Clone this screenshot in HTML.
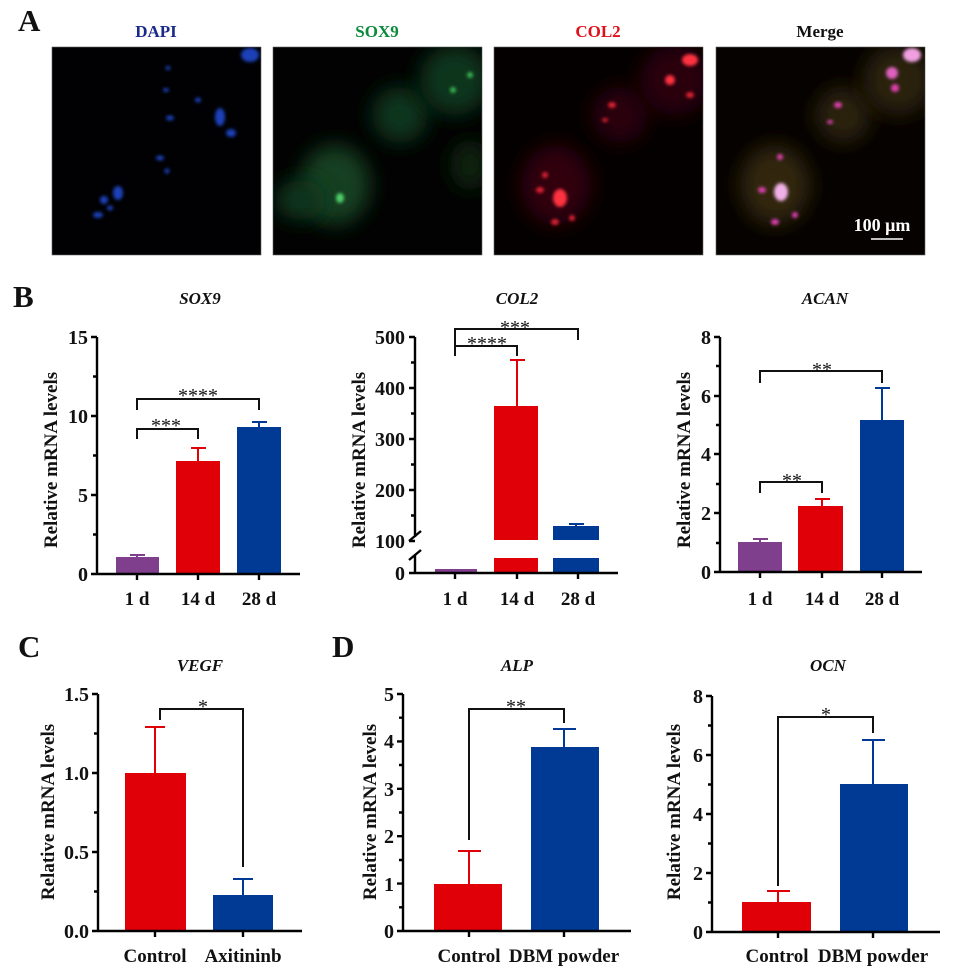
<!DOCTYPE html>
<html><head><meta charset="utf-8"><style>
html,body{margin:0;padding:0;background:#fff}
svg{display:block}
text{font-family:"Liberation Serif",serif;font-weight:bold;fill:#111}
.ax{stroke:#000;stroke-width:2.4;fill:none}
.br{stroke:#111;stroke-width:2;fill:none}
.tl{font-size:20px;text-anchor:end}
.xl{font-size:19px;text-anchor:middle}
.yl{font-size:19px;text-anchor:middle}
.ti{font-size:17px;font-style:italic;text-anchor:middle}
.st{font-size:20px;text-anchor:middle;font-weight:normal}
.big{font-size:31px}
</style></head><body>
<svg width="955" height="971" viewBox="0 0 955 971" xmlns="http://www.w3.org/2000/svg">
<defs>
<filter id="b10" x="-50%" y="-50%" width="200%" height="200%"><feGaussianBlur stdDeviation="10"/></filter>
<filter id="b2" x="-50%" y="-50%" width="200%" height="200%"><feGaussianBlur stdDeviation="1.5"/></filter>
<clipPath id="c1"><rect x="52" y="47" width="209" height="208"/></clipPath>
<clipPath id="c2"><rect x="273" y="47" width="209" height="208"/></clipPath>
<clipPath id="c3"><rect x="494" y="47" width="209" height="208"/></clipPath>
<clipPath id="c4"><rect x="716" y="47" width="209" height="208"/></clipPath>
</defs>

<!-- Panel A -->
<text x="18" y="31" class="big">A</text>
<text x="156" y="37" style="font-size:17px;fill:#1a2a8a" text-anchor="middle">DAPI</text>
<text x="377" y="37" style="font-size:17px;fill:#0a8a3a" text-anchor="middle">SOX9</text>
<text x="598" y="37" style="font-size:17px;fill:#e0101a" text-anchor="middle">COL2</text>
<text x="820" y="37" style="font-size:17px" text-anchor="middle">Merge</text>

<rect x="52" y="47" width="209" height="208" fill="#010104" stroke="#666" stroke-width="0.6"/>
<g clip-path="url(#c1)" fill="#1a3fb8">
<ellipse cx="170" cy="118" rx="4" ry="2.5" filter="url(#b2)"/>
<ellipse cx="220" cy="117" rx="5" ry="9" filter="url(#b2)"/>
<ellipse cx="231" cy="133" rx="5" ry="4" filter="url(#b2)"/>
<ellipse cx="250" cy="55" rx="9" ry="7" filter="url(#b2)"/>
<ellipse cx="198" cy="100" rx="3" ry="2.5" filter="url(#b2)"/>
<ellipse cx="160" cy="158" rx="4" ry="2.5" filter="url(#b2)"/>
<ellipse cx="167" cy="171" rx="2.5" ry="2.5" filter="url(#b2)"/>
<ellipse cx="118" cy="193" rx="5" ry="7" filter="url(#b2)"/>
<ellipse cx="104" cy="200" rx="4" ry="4" filter="url(#b2)"/>
<ellipse cx="98" cy="215" rx="5" ry="3" filter="url(#b2)"/>
<ellipse cx="110" cy="208" rx="3" ry="2.5" filter="url(#b2)"/>
<ellipse cx="166" cy="90" rx="3" ry="2" filter="url(#b2)"/>
<ellipse cx="168" cy="68" rx="2.5" ry="2" filter="url(#b2)"/>
</g>

<rect x="273" y="47" width="209" height="208" fill="#010201" stroke="#666" stroke-width="0.6"/>
<g clip-path="url(#c2)">
<ellipse cx="335" cy="185" rx="35" ry="40" fill="#124020" filter="url(#b10)"/>
<ellipse cx="300" cy="200" rx="25" ry="20" fill="#10361b" filter="url(#b10)"/>
<ellipse cx="400" cy="115" rx="28" ry="28" fill="#10361b" filter="url(#b10)"/>
<ellipse cx="455" cy="80" rx="35" ry="35" fill="#10361b" filter="url(#b10)"/>
<ellipse cx="470" cy="165" rx="20" ry="25" fill="#0a2411" filter="url(#b10)"/>
<ellipse cx="340" cy="198" rx="4" ry="5" fill="#4ed068" filter="url(#b2)"/>
<ellipse cx="453" cy="90" rx="3" ry="3" fill="#3bb552" filter="url(#b2)"/>
<ellipse cx="470" cy="75" rx="3" ry="3" fill="#3bb552" filter="url(#b2)"/>
</g>

<rect x="494" y="47" width="209" height="208" fill="#040000" stroke="#666" stroke-width="0.6"/>
<g clip-path="url(#c3)">
<ellipse cx="556" cy="185" rx="35" ry="40" fill="#330508" filter="url(#b10)"/>
<ellipse cx="620" cy="115" rx="28" ry="28" fill="#2a0508" filter="url(#b10)"/>
<ellipse cx="675" cy="80" rx="35" ry="35" fill="#2a0508" filter="url(#b10)"/>
<ellipse cx="560" cy="198" rx="7" ry="9" fill="#ff3040" filter="url(#b2)"/>
<ellipse cx="540" cy="190" rx="4" ry="3" fill="#e02030" filter="url(#b2)"/>
<ellipse cx="555" cy="222" rx="4" ry="3" fill="#e02030" filter="url(#b2)"/>
<ellipse cx="572" cy="218" rx="3" ry="3" fill="#e02030" filter="url(#b2)"/>
<ellipse cx="545" cy="175" rx="3" ry="3" fill="#e02030" filter="url(#b2)"/>
<ellipse cx="612" cy="105" rx="4" ry="3" fill="#e02030" filter="url(#b2)"/>
<ellipse cx="605" cy="120" rx="3" ry="2" fill="#e02030" filter="url(#b2)"/>
<ellipse cx="690" cy="60" rx="8" ry="6" fill="#ff3040" filter="url(#b2)"/>
<ellipse cx="670" cy="80" rx="5" ry="5" fill="#ff3040" filter="url(#b2)"/>
<ellipse cx="690" cy="95" rx="4" ry="3" fill="#e02030" filter="url(#b2)"/>
</g>

<rect x="716" y="47" width="209" height="208" fill="#050200" stroke="#666" stroke-width="0.6"/>
<g clip-path="url(#c4)">
<ellipse cx="775" cy="185" rx="35" ry="40" fill="#33250e" filter="url(#b10)"/>
<ellipse cx="843" cy="115" rx="28" ry="28" fill="#2a200a" filter="url(#b10)"/>
<ellipse cx="898" cy="80" rx="35" ry="35" fill="#2a200a" filter="url(#b10)"/>
<ellipse cx="781" cy="192" rx="7" ry="9" fill="#f0b0e8" filter="url(#b2)"/>
<ellipse cx="762" cy="190" rx="4" ry="3" fill="#e040b0" filter="url(#b2)"/>
<ellipse cx="775" cy="222" rx="4" ry="3" fill="#e040b0" filter="url(#b2)"/>
<ellipse cx="795" cy="215" rx="3" ry="3" fill="#e040b0" filter="url(#b2)"/>
<ellipse cx="780" cy="157" rx="3" ry="3" fill="#e040b0" filter="url(#b2)"/>
<ellipse cx="838" cy="105" rx="4" ry="3" fill="#e040b0" filter="url(#b2)"/>
<ellipse cx="830" cy="122" rx="3" ry="2" fill="#e040b0" filter="url(#b2)"/>
<ellipse cx="912" cy="55" rx="9" ry="7" fill="#f0a0e0" filter="url(#b2)"/>
<ellipse cx="892" cy="73" rx="6" ry="6" fill="#e060c0" filter="url(#b2)"/>
<ellipse cx="895" cy="88" rx="4" ry="4" fill="#e040b0" filter="url(#b2)"/>
</g>
<text x="882" y="231" style="font-size:18px;fill:#fff" text-anchor="middle">100 μm</text>
<line x1="871" y1="239" x2="903" y2="239" stroke="#fff" stroke-width="1.5"/>

<!-- Panel B: SOX9 -->
<text x="13" y="307" class="big">B</text>
<text x="200" y="304" class="ti">SOX9</text>
<text class="yl" transform="translate(57,460) rotate(-90)">Relative mRNA levels</text>
<rect x="116" y="557" width="43" height="17" fill="#7f3f8c"/>
<rect x="176" y="461" width="44" height="113" fill="#e00008"/>
<rect x="237" y="427" width="44" height="147" fill="#003a94"/>
<path d="M137 557V555M130 555H145" stroke="#7f3f8c" stroke-width="2"/>
<path d="M198 461V448M191 448H206" stroke="#e00008" stroke-width="2"/>
<path d="M259 427V422M252 422H267" stroke="#003a94" stroke-width="2"/>
<path class="ax" d="M97 337V574H300M91 337H97M93 376.5H97M91 416H97M93 455.5H97M91 495H97M93 534.5H97M91 574H97M137 574V580M198 574V580M259 574V580"/>
<text x="88" y="344" class="tl">15</text><text x="88" y="423" class="tl">10</text><text x="88" y="502" class="tl">5</text><text x="88" y="581" class="tl">0</text>
<text x="137" y="605" class="xl">1 d</text><text x="198" y="605" class="xl">14 d</text><text x="259" y="605" class="xl">28 d</text>
<path class="br" d="M137 439V429H198V439M137 410V399H259V410"/>
<text x="166" y="432" class="st">***</text><text x="198" y="402" class="st">****</text>

<!-- COL2 -->
<text x="517" y="304" class="ti">COL2</text>
<text class="yl" transform="translate(365,460) rotate(-90)">Relative mRNA levels</text>
<rect x="435" y="569" width="42" height="4" fill="#7f3f8c"/>
<rect x="494" y="406" width="44" height="134" fill="#e00008"/>
<rect x="494" y="558" width="44" height="15" fill="#e00008"/>
<rect x="553" y="526" width="46" height="14" fill="#003a94"/>
<rect x="553" y="558" width="46" height="15" fill="#003a94"/>
<path d="M517 406V360M510 360H525" stroke="#e00008" stroke-width="2"/>
<path d="M576 526V524M569 524H584" stroke="#003a94" stroke-width="2"/>
<path class="ax" d="M415 337V537M415 555V573H618M409 337H415M411 362.5H415M409 388H415M411 413.5H415M409 439H415M411 464.5H415M409 490H415M411 515.5H415M409 541H415M409 573H415M455 573V579M517 573V579M578 573V579"/>
<path class="ax" d="M409 541L421 531M409 560L421 550" stroke-width="1.8"/>
<text x="405" y="344" class="tl">500</text><text x="405" y="395" class="tl">400</text><text x="405" y="446" class="tl">300</text><text x="405" y="497" class="tl">200</text><text x="405" y="548" class="tl">100</text><text x="405" y="580" class="tl">0</text>
<text x="455" y="605" class="xl">1 d</text><text x="517" y="605" class="xl">14 d</text><text x="578" y="605" class="xl">28 d</text>
<path class="br" d="M455 356V346H517V356M455 345V329H578V340"/>
<text x="487" y="350" class="st">****</text><text x="515" y="334" class="st">***</text>

<!-- ACAN -->
<text x="825" y="304" class="ti">ACAN</text>
<text class="yl" transform="translate(690,460) rotate(-90)">Relative mRNA levels</text>
<rect x="738" y="542" width="44" height="30" fill="#7f3f8c"/>
<rect x="798" y="506" width="45" height="66" fill="#e00008"/>
<rect x="860" y="420" width="44" height="152" fill="#003a94"/>
<path d="M760 542V539M753 539H768" stroke="#7f3f8c" stroke-width="2"/>
<path d="M822 506V499M815 499H830" stroke="#e00008" stroke-width="2"/>
<path d="M882 420V388M875 388H890" stroke="#003a94" stroke-width="2"/>
<path class="ax" d="M720 337V572H922M714 337H720M716 366H720M714 396H720M716 425H720M714 454H720M716 484H720M714 513H720M716 543H720M714 572H720M760 572V578M822 572V578M882 572V578"/>
<text x="711" y="344" class="tl">8</text><text x="711" y="403" class="tl">6</text><text x="711" y="461" class="tl">4</text><text x="711" y="520" class="tl">2</text><text x="711" y="579" class="tl">0</text>
<text x="760" y="605" class="xl">1 d</text><text x="822" y="605" class="xl">14 d</text><text x="882" y="605" class="xl">28 d</text>
<path class="br" d="M760 493V482H822V493M760 383V371H882V383"/>
<text x="792" y="487" class="st">**</text><text x="822" y="376" class="st">**</text>

<!-- Panel C: VEGF -->
<text x="18" y="657" class="big">C</text>
<text x="200" y="671" class="ti">VEGF</text>
<text class="yl" transform="translate(54,812) rotate(-90)">Relative mRNA levels</text>
<rect x="125" y="773" width="61" height="158" fill="#e00008"/>
<rect x="213" y="895" width="60" height="36" fill="#003a94"/>
<path d="M155 773V727M145 727H165" stroke="#e00008" stroke-width="2"/>
<path d="M243 895V879M233 879H253" stroke="#003a94" stroke-width="2"/>
<path class="ax" d="M98 694V931H302M92 694H98M94 733.5H98M92 773H98M94 812.5H98M92 852H98M94 891.5H98M92 931H98M155 931V937M243 931V937"/>
<text x="89" y="701" class="tl">1.5</text><text x="89" y="780" class="tl">1.0</text><text x="89" y="859" class="tl">0.5</text><text x="89" y="938" class="tl">0.0</text>
<text x="155" y="962" class="xl">Control</text><text x="243" y="962" class="xl">Axitininb</text>
<path class="br" d="M160 720V709H243V867"/>
<text x="203" y="713" class="st">*</text>

<!-- Panel D: ALP -->
<text x="332" y="657" class="big">D</text>
<text x="517" y="671" class="ti">ALP</text>
<text class="yl" transform="translate(376,812) rotate(-90)">Relative mRNA levels</text>
<rect x="434" y="884" width="68" height="47" fill="#e00008"/>
<rect x="531" y="747" width="68" height="184" fill="#003a94"/>
<path d="M469 884V851M458 851H481" stroke="#e00008" stroke-width="2"/>
<path d="M564 747V729M553 729H576" stroke="#003a94" stroke-width="2"/>
<path class="ax" d="M403 694V931H631M397 694H403M399 717.7H403M397 741.4H403M399 765H403M397 788.8H403M399 812.5H403M397 836.2H403M399 860H403M397 883.6H403M399 907.3H403M397 931H403M469 931V937M564 931V937"/>
<text x="394" y="701" class="tl">5</text><text x="394" y="748" class="tl">4</text><text x="394" y="796" class="tl">3</text><text x="394" y="843" class="tl">2</text><text x="394" y="891" class="tl">1</text><text x="394" y="938" class="tl">0</text>
<text x="469" y="962" class="xl">Control</text><text x="564" y="962" class="xl">DBM powder</text>
<path class="br" d="M469 840V709H564V723"/>
<text x="516" y="713" class="st">**</text>

<!-- OCN -->
<text x="828" y="671" class="ti">OCN</text>
<text class="yl" transform="translate(680,812) rotate(-90)">Relative mRNA levels</text>
<rect x="742" y="902" width="69" height="30" fill="#e00008"/>
<rect x="840" y="784" width="68" height="148" fill="#003a94"/>
<path d="M778 902V891M767 891H790" stroke="#e00008" stroke-width="2"/>
<path d="M873 784V740M862 740H885" stroke="#003a94" stroke-width="2"/>
<path class="ax" d="M712 696V932H940M706 696H712M708 725.5H712M706 755H712M708 784.5H712M706 814H712M708 843.5H712M706 873H712M708 902.5H712M706 932H712M778 932V938M873 932V938"/>
<text x="703" y="703" class="tl">8</text><text x="703" y="762" class="tl">6</text><text x="703" y="821" class="tl">4</text><text x="703" y="880" class="tl">2</text><text x="703" y="939" class="tl">0</text>
<text x="777" y="962" class="xl">Control</text><text x="873" y="962" class="xl">DBM powder</text>
<path class="br" d="M778 886V717H873V733"/>
<text x="826" y="721" class="st">*</text>
</svg>
</body></html>
